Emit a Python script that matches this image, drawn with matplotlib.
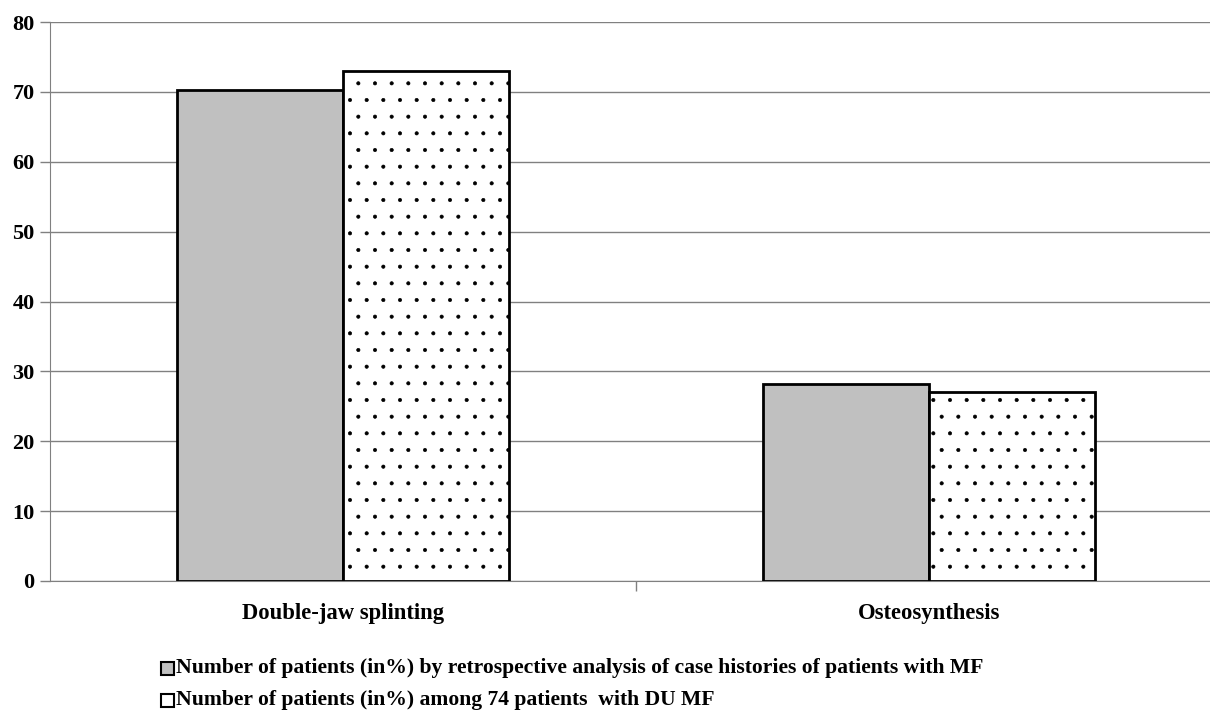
import matplotlib
matplotlib.use("Agg")
import matplotlib.pyplot as plt
import numpy as np

categories = ["Double-jaw splinting", "Osteosynthesis"]
retrospective = [70.2, 28.2]
among74 = [73.0, 27.0]
series_labels = [
    "Number of patients (in%) by retrospective analysis of case histories of patients with MF",
    "Number of patients (in%) among 74 patients  with DU MF",
]
yticks = [0, 10, 20, 30, 40, 50, 60, 70, 80]

plt.rcParams['font.family'] = ['Liberation Serif', 'DejaVu Serif']
plt.rcParams['hatch.linewidth'] = 0.45
plt.rcParams['hatch.color'] = '#333333'

W, H = 1210, 718
fig = plt.figure(figsize=(W/100, H/100), dpi=100)
ax = fig.add_axes([50/W, 1 - 581/H, 1172/W, (581-22)/H])

x = np.arange(len(categories))
bw = 0.284
ax.bar(x - bw/2, retrospective, bw, color='#c0c0c0', edgecolor='black', linewidth=2, zorder=3)
ax.bar(x + bw/2, among74, bw, color='white', edgecolor='black', linewidth=2, hatch='.', zorder=3)

ax.set_xlim(-0.5, 1.5)
ax.set_ylim(0, 80)
ax.set_yticks(yticks)
ax.set_yticklabels([str(t) for t in yticks], fontsize=16, fontweight='bold')
ax.yaxis.grid(True, color='#808080', linewidth=1)
ax.set_axisbelow(True)
ax.tick_params(axis='y', length=7, width=1, color='#808080', pad=4)

ax.set_xticks([0.5])
ax.set_xticklabels([''])
ax.tick_params(axis='x', length=7, width=1, color='#808080', direction='out')
for i, c in enumerate(categories):
    ax.text(i, -4.7, c, ha='center', va='center', fontsize=16.3, fontweight='bold')

for s in ['top', 'right']:
    ax.spines[s].set_visible(False)
ax.spines['left'].set_color('#808080')
ax.spines['bottom'].set_color('#808080')

# legend
from matplotlib.patches import Rectangle
lx, ly = 167, [668, 700]
for i, lab in enumerate(series_labels):
    fc = '#c0c0c0' if i == 0 else 'white'
    r = Rectangle(((lx - 6.5)/W, 1 - (ly[i] + 6.5)/H), 13/W, 13/H, transform=fig.transFigure,
                  facecolor=fc, edgecolor='black', linewidth=1.5)
    fig.add_artist(r)
    fig.text((lx + 9)/W, 1 - ly[i]/H, lab, ha='left', va='center', fontsize=15.6, fontweight='bold')

fig.savefig("out.png", dpi=100)
